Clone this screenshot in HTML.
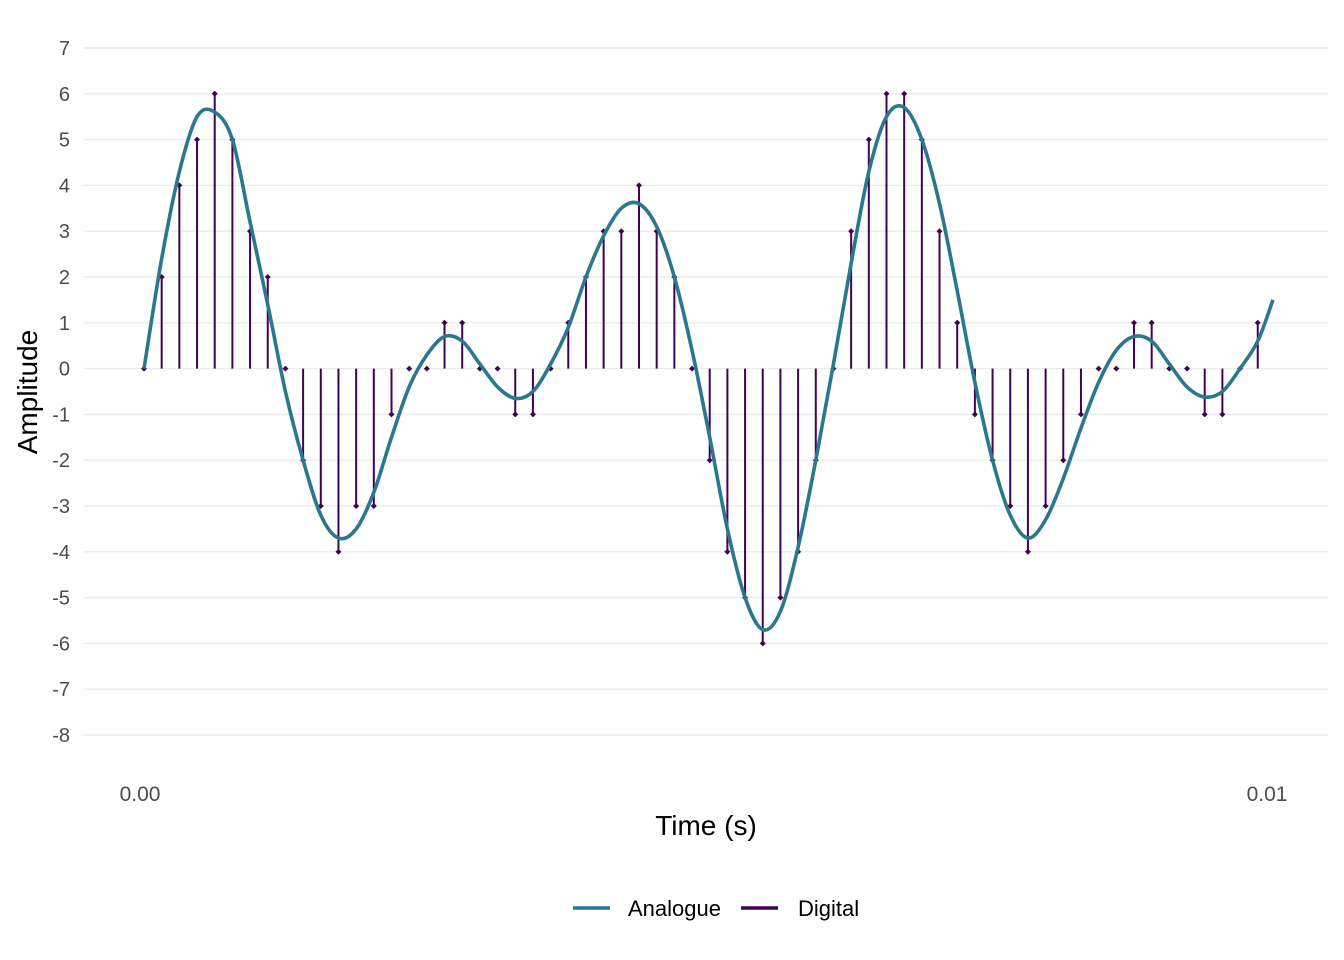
<!DOCTYPE html>
<html><head><meta charset="utf-8"><style>
html,body{margin:0;padding:0;background:#fff;}
svg{display:block;font-family:"Liberation Sans",Arial,sans-serif;}
</style></head><body>
<svg id="chart" width="1344" height="960" viewBox="0 0 1344 960" xmlns="http://www.w3.org/2000/svg">
<g id="grid"></g>
<g id="yticks"></g>
<g id="xticks"></g>
<g id="stems"></g>
<path id="analogue" fill="none" stroke="#2a788e" stroke-width="3.6" stroke-linejoin="round" stroke-linecap="butt"/>
<text x="706" y="835" font-size="28" text-anchor="middle" fill="#000">Time (s)</text>
<text transform="translate(37,392) rotate(-90)" font-size="28" text-anchor="middle" fill="#000">Amplitude</text>
<g>
<line x1="573" y1="908" x2="610" y2="908" stroke="#2a788e" stroke-width="3.6"/>
<text x="628" y="916" font-size="22" fill="#000">Analogue</text>
<line x1="741" y1="908" x2="778" y2="908" stroke="#440154" stroke-width="3.6"/>
<text x="798" y="916" font-size="22" fill="#000">Digital</text>
</g>
</svg>
<script>
const yTicks = [7,6,5,4,3,2,1,0,-1,-2,-3,-4,-5,-6,-7,-8];
const xTicks = [0, 0.01];
const xTickLabels = ["0.00", "0.01"];
const sampleRate = 6375;
const digital = [0,2,4,5,6,5,3,2,0,-2,-3,-4,-3,-3,-1,0,0,1,1,0,0,-1,-1,0,1,2,3,3,4,3,2,0,-2,-4,-5,-6,-5,-4,-2,0,3,5,6,6,5,3,1,-1,-2,-3,-4,-3,-2,-1,0,0,1,1,0,0,-1,-1,0,1];
const analogueIdx = [0,1,2,3,4,5,6,7,8,9,10,11,12,13,14,15,16,17,18,19,20,21,22,23,24,25,26,27,28,29,30,31,32,33,34,35,36,37,38,39,40,41,42,43,44,45,46,47,48,49,50,51,52,53,54,55,56,57,58,59,60,61,62,63,63.86];
const analogue = [0,2.4,4.3,5.5,5.6,5.0,3.2,1.4,-0.5,-2.0,-3.2,-3.7,-3.5,-2.7,-1.5,-0.4,0.3,0.7,0.6,0.1,-0.4,-0.65,-0.5,0.1,0.9,2.0,2.9,3.5,3.6,3.1,2.0,0.4,-1.5,-3.5,-5.0,-5.7,-5.3,-3.9,-2.0,0.1,2.3,4.3,5.5,5.7,5.0,3.6,1.7,-0.3,-2.0,-3.2,-3.7,-3.3,-2.4,-1.3,-0.3,0.4,0.7,0.6,0.1,-0.4,-0.62,-0.5,0.0,0.6,1.5];

const NS='http://www.w3.org/2000/svg';
function y(v){return 368.6 - v*45.8;}
function x(t){return 144 + t*112700;}
function mk(tag,attrs,parent){const e=document.createElementNS(NS,tag);for(const k in attrs)e.setAttribute(k,attrs[k]);parent.appendChild(e);return e;}

const grid=document.getElementById('grid'), yt=document.getElementById('yticks'), xt=document.getElementById('xticks'), stems=document.getElementById('stems');
yTicks.forEach(v=>{
  const l=mk('line',{x1:84,x2:1328,y1:y(v),y2:y(v),stroke:'#ebebeb','stroke-width':1.4},grid);
  
  
  const t=mk('text',{x:70,y:y(v)+7,'font-size':20,'text-anchor':'end',fill:'#4d4d4d'},yt);
  
  
  t.textContent=v;
});
xTicks.forEach((v,i)=>{
  const t=mk('text',{x:x(v)-4,y:801,'font-size':21,'text-anchor':'middle',fill:'#4d4d4d'},xt);
  
  
  t.textContent=xTickLabels[i];
});
digital.forEach((v,i)=>{
  const px=x(i/sampleRate);
  const l=mk('line',{x1:px,x2:px,y1:y(0),y2:y(v),stroke:'#440154','stroke-width':2},stems);
  
  
  const py=y(v);
  const p=mk('polygon',{points:`${px},${py-3} ${px+3},${py} ${px},${py+3} ${px-3},${py}`,fill:'#440154'},stems);
  
  
});
const pts=analogueIdx.map((k,i)=>[x(k/sampleRate),y(analogue[i])]);
let d=`M${pts[0][0]},${pts[0][1]}`;
for(let i=0;i<pts.length-1;i++){
  const p0=pts[Math.max(0,i-1)],p1=pts[i],p2=pts[i+1],p3=pts[Math.min(pts.length-1,i+2)];
  const c1=[p1[0]+(p2[0]-p0[0])/6,p1[1]+(p2[1]-p0[1])/6];
  const c2=[p2[0]-(p3[0]-p1[0])/6,p2[1]-(p3[1]-p1[1])/6];
  d+=` C${c1[0]},${c1[1]} ${c2[0]},${c2[1]} ${p2[0]},${p2[1]}`;
}
document.getElementById('analogue').setAttribute('d',d);
</script>
</body></html>
